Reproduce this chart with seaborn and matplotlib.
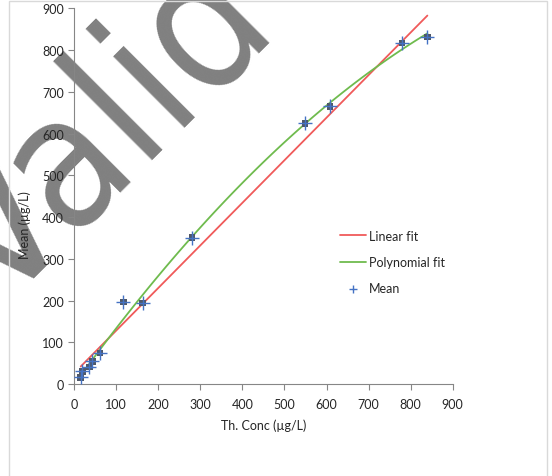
import matplotlib
matplotlib.use("Agg")
import matplotlib.pyplot as plt
from matplotlib.patches import Rectangle
import numpy as np
import pandas as pd
import seaborn as sns

# values
th_conc = [15.2, 19.0, 35.6, 42.8, 61.3, 116.5, 162.5, 279.8, 549.0, 608.5, 779.7, 840.0]
mean_conc = [16.0, 30.4, 40.7, 54.4, 74.0, 196.6, 194.2, 350.5, 624.6, 665.0, 817.0, 831.0]
ticks = list(range(0, 1000, 100))

df = pd.DataFrame({"x": th_conc, "y": mean_conc})

sns.set_theme(style="white")
plt.rcParams["font.family"] = ["Lato", "DejaVu Sans"]

fig = plt.figure(figsize=(5.52, 4.77), dpi=100)
ax = fig.add_axes([74.3 / 552, 1 - 385 / 477, 378.3 / 552, 375.7 / 477])
ax.patch.set_alpha(0)

# watermark behind the chart
fig.text(141 / 552, 1 - 171 / 477, "Valid", rotation=45, rotation_mode="anchor",
         fontsize=132, color="#808080", ha="center", va="baseline",
         family="DejaVu Sans", fontstretch="condensed", zorder=-1)
fig.patches.append(Rectangle((9 / 552, -0.05), 538 / 552, 1.05 - 1.5 / 477,
                             transform=fig.transFigure, fill=False,
                             edgecolor="#d9d9d9", lw=1))

sns.regplot(data=df, x="x", y="y", ci=None, scatter=False, ax=ax,
            color="#f05a5a", line_kws={"lw": 1.3}, label="Linear fit")
sns.regplot(data=df, x="x", y="y", order=2, ci=None, scatter=False, ax=ax,
            color="#6fbb4e", line_kws={"lw": 1.3}, label="Polynomial fit")
sns.scatterplot(data=df, x="x", y="y", marker="s", s=22, color="#4f5869",
                edgecolor="none", ax=ax, legend=False, zorder=3)
sns.scatterplot(data=df, x="x", y="y", marker="+", s=90, color="#4472c4",
                linewidth=1, ax=ax, label="Mean", zorder=4)

ax.set_xlim(0, 900)
ax.set_ylim(0, 900)
ax.set_xticks(ticks)
ax.set_yticks(ticks)
ax.set_xlabel("Th. Conc (µg/L)", fontsize=9, color="#262626", va="top")
ax.set_ylabel("Mean (µg/L)", fontsize=9, color="#262626")
ax.xaxis.set_label_coords(0.5, -0.093)
ax.yaxis.set_label_coords(-0.115, 0.426)
ax.tick_params(axis="both", labelsize=9, colors="#262626", length=4,
               width=0.8, direction="out", bottom=True, left=True)
ax.tick_params(axis="x", pad=6)
ax.tick_params(axis="both", color="#868686")
for side in ["top", "right"]:
    ax.spines[side].set_visible(False)
for side in ["left", "bottom"]:
    ax.spines[side].set_color("#868686")
    ax.spines[side].set_linewidth(0.8)

ax.legend(loc="center left", bbox_to_anchor=(0.672, 0.325), frameon=False,
          fontsize=9, labelspacing=1.15, handlelength=2.1, handletextpad=0.25,
          markerscale=0.6)

fig.savefig("out.png", dpi=100)
